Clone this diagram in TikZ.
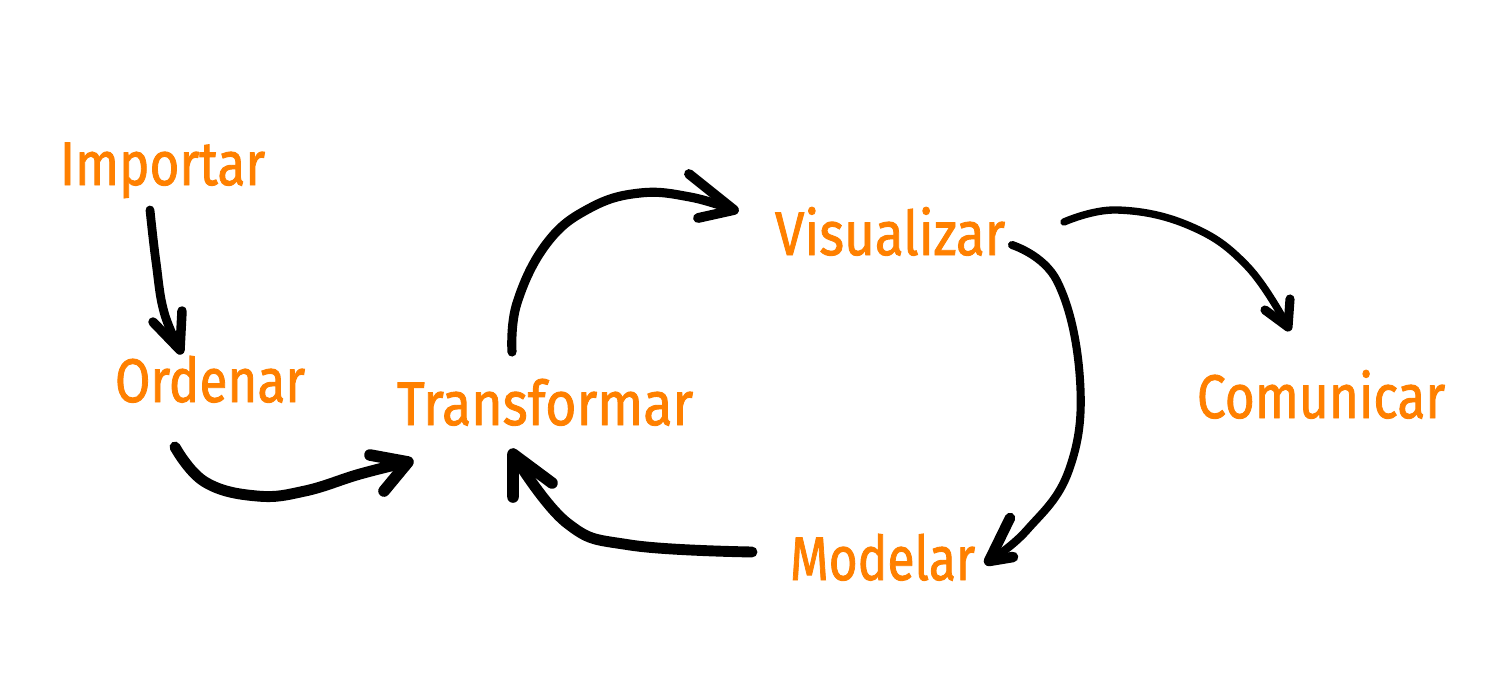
\documentclass[tikz,border=0pt]{standalone}
\usepackage{fontspec}
\setmainfont{Fira Sans}
\newfontfamily\lblfont[FakeBold=1.5]{Fira Sans}
\usepackage{graphicx}
\definecolor{lblorange}{HTML}{FF8000}
\tikzset{
  lbl/.style={anchor=base west, inner sep=0pt, outer sep=0pt, text=lblorange, font=\lblfont\fontsize{17.5}{18}\selectfont},
  stroke/.style={line width=#1, line cap=round, line join=round, draw=black},
  stroke/.default=2pt
}
\newcommand{\fitw}[2]{\resizebox{#1}{\height}{#2}}
\begin{document}
\begin{tikzpicture}[x=0.01cm, y=-0.01cm]
\useasboundingbox[fill=white] (0,0) rectangle (1500,700);
% labels
\node[lbl] (imp) at (60,185) {\fitw{2.05cm}{Importar}};
\node[lbl] (ord) at (115,402) {\fitw{1.90cm}{Ordenar}};
\node[lbl] (tra) at (397,425) {\fitw{2.96cm}{Transformar}};
\node[lbl] (vis) at (775,255) {\fitw{2.30cm}{Visualizar}};
\node[lbl] (com) at (1197,418) {\fitw{2.48cm}{Comunicar}};
\node[lbl] (mod) at (790,580) {\fitw{1.85cm}{Modelar}};
% endpoints
\coordinate (a1s) at (150,210); \coordinate (a1t) at (180,350);
\coordinate (a2s) at (175,447); \coordinate (a2t) at (408,462);
\coordinate (a3s) at (512,352); \coordinate (a3t) at (734,210);
\coordinate (a4s) at (1064,222); \coordinate (a4t) at (1288,327);
\coordinate (a5s) at (1012,245); \coordinate (a5t) at (989,561);
\coordinate (a6s) at (752,552); \coordinate (a6t) at (513,454);
% Importar -> Ordenar
\draw[stroke=2.5pt] plot[smooth, tension=0.7] coordinates {(a1s) (156,262) (164,312) (a1t)};
\draw[stroke=2.7pt] (153,322) -- (a1t) -- (182,311);
% Ordenar -> Transformar
\draw[stroke=3.1pt] plot[smooth, tension=0.7] coordinates {(a2s) (205,482) (257,496) (305,491) (360,474) (a2t)};
\draw[stroke=3.3pt] (370,455) -- (a2t) -- (384,491);
% Transformar -> Visualizar
\draw[stroke=2.6pt] plot[smooth, tension=0.7] coordinates {(a3s) (517,303) (547,243) (590,208) (640,193) (690,197) (a3t)};
\draw[stroke=2.8pt] (689,174) -- (a3t) -- (698,218);
% Visualizar -> Comunicar
\draw[stroke=2.1pt] plot[smooth, tension=0.7] coordinates {(a4s) (1117,210) (1190,226) (1247,266) (a4t)};
\draw[stroke=2.6pt] (1265,310) -- (a4t) -- (1290,299);
% Visualizar -> Modelar
\draw[stroke=2.3pt] plot[smooth, tension=0.7] coordinates {(a5s) (1057,281) (1080,380) (1069,470) (1027,530) (a5t)};
\draw[stroke=3pt] (1010,518) -- (a5t) -- (1013,557);
% Modelar -> Transformar
\draw[stroke=3.1pt] plot[smooth, tension=0.7] coordinates {(a6s) (630,545) (567,523) (a6t)};
\draw[stroke=3.3pt] (513,497) -- (a6t) -- (552,483);
\end{tikzpicture}
\end{document}
